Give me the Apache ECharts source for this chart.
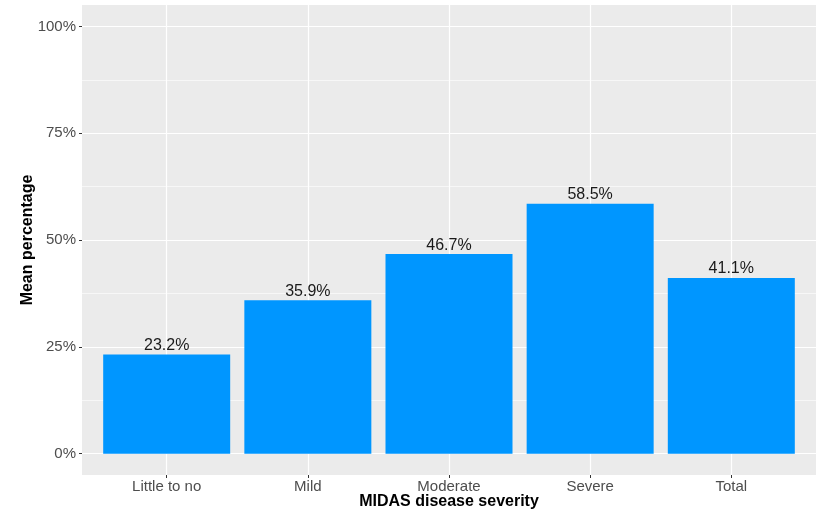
<!DOCTYPE html>
<html>
<head>
<meta charset="utf-8">
<script src="https://cdn.jsdelivr.net/npm/echarts@6/dist/echarts.min.js"></script>
<style>
  html, body { margin: 0; padding: 0; background: #fff; }
  #chart { width: 819px; height: 514px; }
</style>
</head>
<body>
<div id="chart"></div>
<script>
// MIDAS severity groups and their mean percentages
const categories = ['Little to no', 'Mild', 'Moderate', 'Severe', 'Total'];
const meanPct = [23.2, 35.9, 46.7, 58.5, 41.1];
const yTicks = [0, 25, 50, 75, 100];
const yMinorTicks = [12.5, 37.5, 62.5, 87.5];

const positions = categories.map((_, i) => i + 1);
const barData = meanPct.map((v, i) => [positions[i], v]);

const chart = echarts.init(document.getElementById('chart'), null, { renderer: 'canvas' });

const fontFamily = 'Liberation Sans, Arial, sans-serif';
const tickLabelStyle = { color: '#4D4D4D', fontSize: 15, fontFamily };
const titleStyle = { color: '#000', fontSize: 16, fontWeight: 'bold', fontFamily };

chart.setOption({
  animation: false,
  backgroundColor: '#fff',
  grid: {
    left: 82, right: 3, top: 5, bottom: 39,
    outerBoundsMode: 'none',
    containLabel: false,
    show: true, backgroundColor: '#EBEBEB', borderWidth: 0
  },
  xAxis: {
    type: 'value',
    min: 0.4, max: 5.6,
    name: 'MIDAS disease severity',
    nameLocation: 'middle',
    nameGap: 19,
    nameMoveOverlap: false,
    nameTextStyle: titleStyle,
    axisLine: { show: false, onZero: false },
    axisTick: { show: true, length: 3, customValues: positions, lineStyle: { color: '#333', width: 1 } },
    axisLabel: {
      customValues: positions, margin: 4, ...tickLabelStyle,
      formatter: v => categories[Math.round(v) - 1] || ''
    },
    splitLine: { show: true, lineStyle: { color: '#fff', width: 1.2 } }
  },
  yAxis: [
    {
      type: 'value',
      min: -5, max: 105,
      name: 'Mean percentage',
      nameLocation: 'middle',
      nameGap: 46,
      nameRotate: 90,
      nameMoveOverlap: false,
      nameTextStyle: titleStyle,
      axisLine: { show: false, onZero: false },
      axisTick: { show: true, length: 3, customValues: yTicks, lineStyle: { color: '#333', width: 1 } },
      axisLabel: { customValues: yTicks, margin: 6, ...tickLabelStyle, formatter: v => v + '%' },
      splitLine: { show: true, lineStyle: { color: '#fff', width: 1.2 } }
    },
    {
      type: 'value',
      min: -5, max: 105,
      position: 'left',
      axisLine: { show: false, onZero: false },
      axisTick: { show: false, customValues: yMinorTicks },
      axisLabel: { show: false, customValues: yMinorTicks },
      splitLine: { show: true, lineStyle: { color: '#fff', width: 0.6 } }
    }
  ],
  series: [{
    type: 'bar',
    data: barData,
    barWidth: 127,
    itemStyle: { color: '#0096FF' },
    label: {
      show: true,
      position: 'top',
      distance: 1,
      color: '#1A1A1A',
      fontSize: 16,
      fontFamily,
      formatter: p => p.value[1].toFixed(1) + '%'
    }
  }]
});
</script>
</body>
</html>
